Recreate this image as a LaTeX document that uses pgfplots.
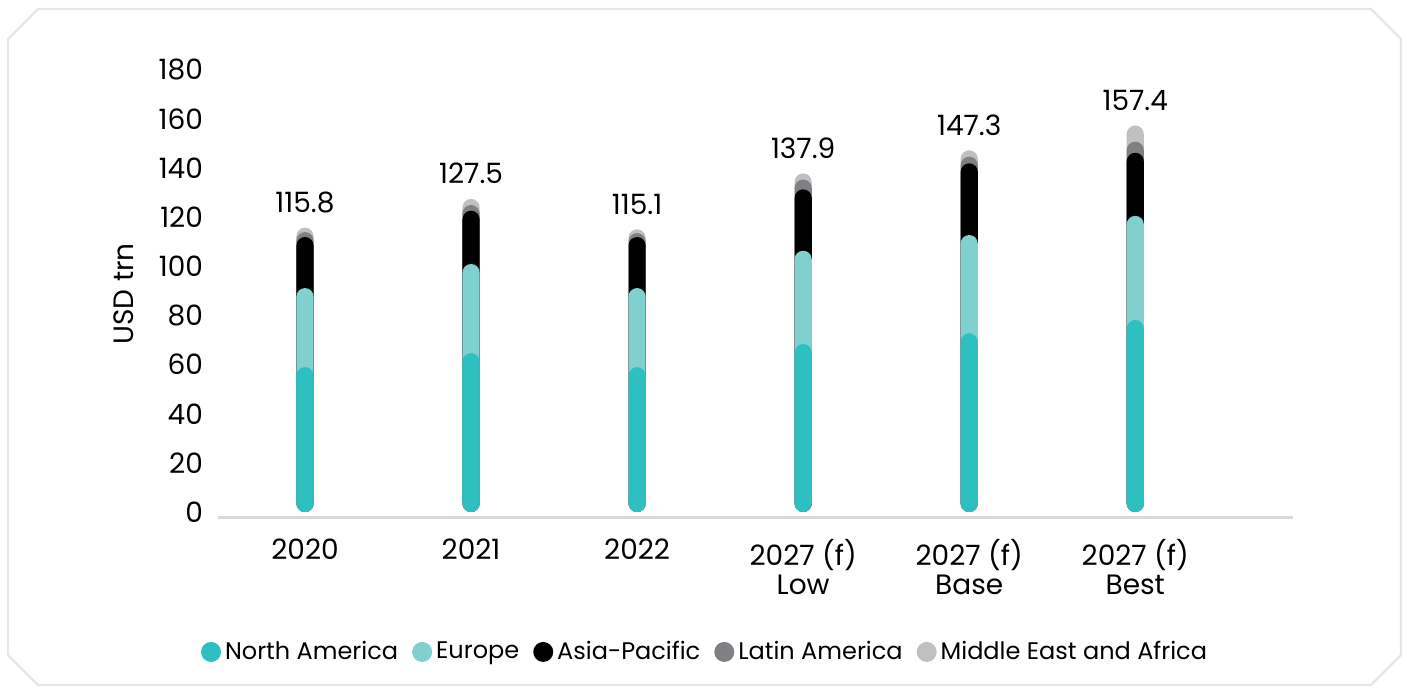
\documentclass[border=0pt]{standalone}
\usepackage{pgfplots}
\pgfplotsset{compat=1.18}
\usepackage{pgfplotstable}
\usepackage{fontspec}
\setmainfont{Poppins}
\definecolor{cNA}{HTML}{2EBFC0}
\definecolor{cEU}{HTML}{80D0D0}
\definecolor{cAP}{HTML}{000000}
\definecolor{cLA}{HTML}{808084}
\definecolor{cME}{HTML}{C0C0C2}
\definecolor{axisgray}{HTML}{D9D9D9}
\definecolor{framegray}{HTML}{E6E6E6}

% segment values (USD trn)
\pgfplotstableread{
x na   eu   ap   la  me
0 59.0 32.2 20.8 2.0 1.8
1 64.7 36.3 21.7 2.3 2.5
2 59.0 32.2 20.8 1.6 1.5
3 68.4 38.0 25.0 4.0 2.5
4 72.8 40.0 29.2 2.7 2.6
5 78.2 42.4 25.7 4.5 6.6
}\data
\pgfplotstablecreatecol[expr={\thisrow{na}+\thisrow{eu}}]{c2}\data
\pgfplotstablecreatecol[expr={\thisrow{c2}+\thisrow{ap}}]{c3}\data
\pgfplotstablecreatecol[expr={\thisrow{c3}+\thisrow{la}}]{c4}\data
\pgfplotstablecreatecol[expr={\thisrow{c4}+\thisrow{me}}]{c5}\data

\begin{document}
\begin{tikzpicture}
\useasboundingbox (-109pt,-85.5pt) rectangle (594.5pt,259pt);
\draw[framegray, line width=1.2pt]
  (-105pt,239.5pt) -- (-90pt,254.5pt) -- (576.5pt,254.5pt) -- (591.5pt,239.5pt)
  -- (591.5pt,-68.5pt) -- (576.5pt,-83.5pt) -- (-90pt,-83.5pt) -- (-105pt,-68.5pt) -- cycle;
\begin{axis}[
  at={(0pt,0pt)}, anchor=south west,
  scale only axis,
  width=537.5pt, height=224pt,
  xmin=-0.524, xmax=5.95,
  ymin=-2.44, ymax=180,
  ytick={0,20,...,180},
  xtick={0,...,5},
  xticklabels={2020,2021,2022,{2027 (f)\\Low},{2027 (f)\\Base},{2027 (f)\\Best}},
  xticklabel style={align=center, font=\fontsize{14}{14.5}\selectfont, yshift=-7pt},
  yticklabel style={font=\fontsize{14}{15}\selectfont, xshift=-4pt},
  /pgf/number format/assume math mode=true,
  axis x line*=bottom,
  axis y line*=left,
  x axis line style={draw=axisgray, line width=1.5pt, -},
  y axis line style={draw=none},
  major tick length=0pt,
  ylabel={USD trn},
  every axis y label/.style={at={([xshift=-47pt]axis description cs:0,0.5)}, rotate=90, anchor=center, font=\fontsize{14}{15}\selectfont},
  ybar, bar width=8.6pt, bar shift=0pt,
  every axis plot/.append style={draw=none, rounded corners=4.3pt},
  legend style={at={(axis description cs:0.454,-0.299)}, anchor=center, draw=none,
    font=\fontsize{12}{13}\selectfont, /tikz/every even column/.append style={column sep=5pt}},
  legend columns=5,
  reverse legend,
  legend image code/.code={\fill (0pt,0pt) circle (5pt);},
]
\addplot[fill=cME, nodes near coords,
  nodes near coords style={font=\fontsize{14}{15}\selectfont, anchor=base, inner sep=0pt, yshift=7.5pt, text=black,
    /pgf/number format/.cd, fixed, precision=1, zerofill, assume math mode=true}]
  table[x=x, y=c5]{\data};
\addlegendentry{Middle East and Africa}
\addplot[fill=cLA] table[x=x, y=c4]{\data};
\addlegendentry{Latin America}
\addplot[fill=cAP] table[x=x, y=c3]{\data};
\addlegendentry{Asia-Pacific}
\addplot[fill=cEU] table[x=x, y=c2]{\data};
\addlegendentry{Europe}
\addplot[fill=cNA] table[x=x, y=na]{\data};
\addlegendentry{North America}
\end{axis}
\end{tikzpicture}
\end{document}
